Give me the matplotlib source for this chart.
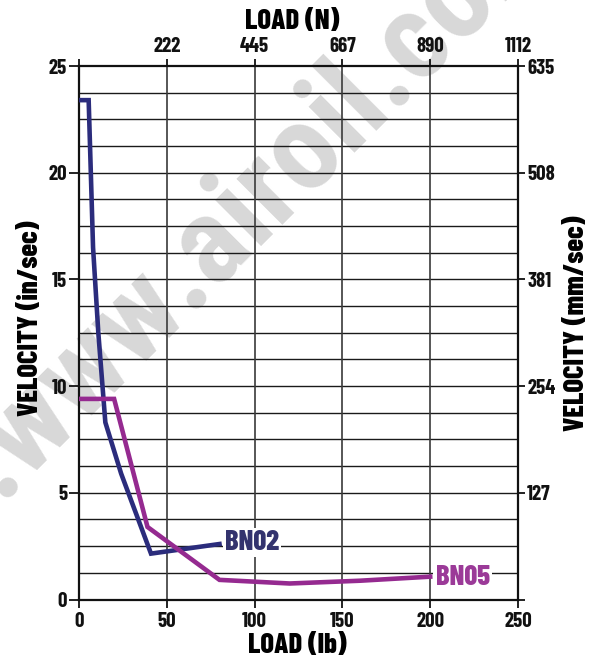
import matplotlib
matplotlib.use("Agg")
import matplotlib.pyplot as plt
from matplotlib import font_manager as fm
import numpy as np

# ---- data ----
bn02_load = [0, 5.5, 8, 11, 15, 24, 41, 80]
bn02_vel = [23.4, 23.4, 16.5, 12.5, 8.3, 5.9, 2.15, 2.6]
bn05_load = [0, 20, 39, 80, 120, 160, 200]
bn05_vel = [9.4, 9.4, 3.4, 0.92, 0.75, 0.88, 1.07]
series_names = ["BN02", "BN05"]
x_ticks_lb = [0, 50, 100, 150, 200, 250]
top_tick_pos = [50, 100, 150, 200, 250]
top_tick_labels = ["222", "445", "667", "890", "1112"]
y_ticks_in = [0, 5, 10, 15, 20, 25]
right_tick_pos = [5, 10, 15, 20, 25]
right_tick_labels = ["127", "254", "381", "508", "635"]

fonts = fm.fontManager.ttflist
names = {f.name for f in fonts}


def pick(cands, default="DejaVu Sans"):
    for c in cands:
        if c in names:
            return c
    return default


FAM = pick(["Roboto Condensed", "Archivo Narrow", "Barlow Condensed", "PT Sans Narrow",
            "Liberation Sans Narrow", "Arimo", "Liberation Sans"])
# heavy condensed face for the titles / series labels
LFAM, LW = FAM, "bold"
for cand, w in [("Barlow Condensed", 800), ("Barlow Condensed", 700)]:
    if any(f.name == cand and f.weight == w for f in fonts):
        LFAM, LW = cand, w
        break
TFAM, TW, TSIZE = FAM, "bold", 14
if any(f.name == "Barlow Condensed" and f.weight == 700 for f in fonts):
    TFAM, TW, TSIZE = "Barlow Condensed", 700, 15
WFAM = pick(["Roboto Condensed", "Liberation Sans", "Arimo"])
plt.rcParams["font.family"] = [FAM, "DejaVu Sans"]
plt.rcParams["font.weight"] = "bold"

W, H = 600, 659
fig = plt.figure(figsize=(6, 6.59), dpi=100)
L, R, T, B = 79, 518, 66, 599.5
ax = fig.add_axes([L / W, 1 - B / H, (R - L) / W, (B - T) / H])
ax.set_facecolor("none")

# watermark (behind everything)
fig.text(0 / W, 1 - 500 / H, ".www.airoil.com", rotation=45, rotation_mode="anchor",
         ha="left", va="baseline", fontsize=88, color="#d8d8d8",
         family=WFAM, weight="bold", zorder=-10)

ax.set_xlim(0, 250)
ax.set_ylim(0, 25)

# grid
for yv in np.arange(1.25, 25, 1.25):
    ax.axhline(yv, color="#1a1a1a", lw=1.0, zorder=1)
for xv in x_ticks_lb[1:-1]:
    ax.axvline(xv, color="#3a3a3a", lw=1.2, zorder=1)

navy = "#2b2c7c"
purple = "#952a90"
ax.plot(bn02_load, bn02_vel, color=navy, lw=3.3, solid_joinstyle="miter", zorder=3)
ax.plot(bn05_load, bn05_vel, color=purple, lw=3.3, solid_joinstyle="miter", zorder=3)

lab_kw = dict(fontsize=20.5, weight=LW, family=[LFAM, "DejaVu Sans"], va="center", ha="left",
              textcoords="offset points",
              bbox=dict(boxstyle="square,pad=0.08", fc="white", ec="none"), zorder=4)
ax.annotate(series_names[0], (bn02_load[-1], bn02_vel[-1]), xytext=(4, 1),
            color="#33336e", **lab_kw)
ax.annotate(series_names[1], (bn05_load[-1], bn05_vel[-1]), xytext=(4, -0.5),
            color="#9b3a98", **lab_kw)

for s in ax.spines.values():
    s.set_linewidth(1.6)
    s.set_color("#111111")
    s.set_zorder(2)

tick_font = dict(fontsize=TSIZE, fontweight=TW, family=[TFAM, "DejaVu Sans"])
ax.set_xticks(x_ticks_lb)
ax.set_xticklabels([str(v) for v in x_ticks_lb], **tick_font)
ax.set_yticks(y_ticks_in)
ax.set_yticklabels([str(v) for v in y_ticks_in], **tick_font)
ax.tick_params(axis="x", direction="out", length=6, width=1.3, pad=3, colors="#111111")
ax.tick_params(axis="y", direction="out", length=7, width=1.3, pad=1.5, colors="#111111")

ax_top = ax.twiny()
ax_top.set_xlim(ax.get_xlim())
ax_top.set_xticks([0] + top_tick_pos)
ax_top.set_xticklabels([""] + top_tick_labels, **tick_font)
ax_top.tick_params(axis="x", direction="out", length=5, width=1.3, pad=2, colors="#111111")
ax_top.set_frame_on(False)

ax_r = ax.twinx()
ax_r.set_ylim(ax.get_ylim())
ax_r.set_yticks([0] + right_tick_pos)
ax_r.set_yticklabels([""] + right_tick_labels, **tick_font)
ax_r.tick_params(axis="y", direction="out", length=5, width=1.3, pad=1.5, colors="#111111")
ax_r.set_frame_on(False)

lbl = dict(fontsize=20.5, fontweight=LW, family=[LFAM, "DejaVu Sans"])
ax.set_xlabel("LOAD (lb)", **lbl)
ax.xaxis.set_label_coords(0.497, -0.0853)
ax.xaxis.label.set_va("center")
ax.set_ylabel("VELOCITY (in/sec)", **lbl)
ax.yaxis.set_label_coords(-0.111, 0.528)
ax.yaxis.label.set_va("center")
ax_top.set_xlabel("LOAD (N)", **lbl)
ax_top.xaxis.set_label_coords(0.486, 1.084)
ax_top.xaxis.label.set_va("center")
ax_r.set_ylabel("VELOCITY (mm/sec)", **lbl)
ax_r.yaxis.set_label_coords(1.134, 0.518)
ax_r.yaxis.label.set_va("center")
ax_r.yaxis.label.set_rotation(90)

fig.savefig("out.png", dpi=100)
